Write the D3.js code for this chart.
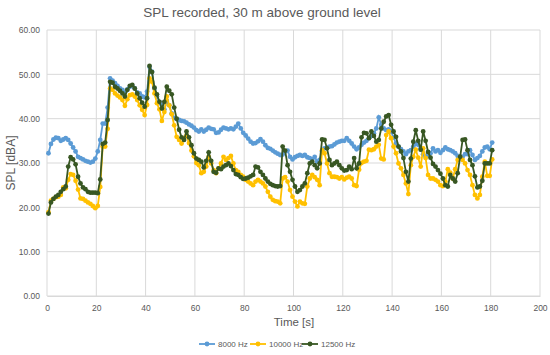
<!DOCTYPE html>
<html>
<head>
<meta charset="utf-8">
<script src="https://cdn.jsdelivr.net/npm/d3@7"></script>
<style>
  body { margin: 0; background: #fff; }
  text { font-family: "Liberation Sans", Arial, sans-serif; fill: #595959; }
</style>
</head>
<body>
<div id="chart"></div>
<script>
// x positions of the samples (s)
const time = d3.range(181).map((i) => i + 0.6);

const seriesNames = ["8000 Hz", "10000 Hz", "12500 Hz"];
const seriesColors = ["#5B9BD5", "#FFC000", "#385723"];

const spl8000 = [
  32.2, 34.3, 35.3, 35.7, 35.6, 35.0, 35.3, 35.6, 35.2, 34.4,
  33.5, 32.6, 31.4, 31.1, 30.8, 30.5, 30.3, 30.1, 30.3, 31.0,
  32.6, 35.2, 38.9, 38.9, 42.5, 49.1, 48.6, 48.0, 47.4, 46.8,
  46.5, 45.9, 46.6, 47.2, 47.4, 46.8, 45.9, 45.7, 45.0, 44.8,
  46.1, 51.7, 50.6, 46.8, 45.0, 43.8, 43.1, 42.1, 44.0, 43.0,
  41.2, 40.2, 39.9, 39.7, 39.5, 39.4, 39.1, 38.7, 38.4, 38.0,
  37.4, 37.1, 37.6, 37.1, 37.5, 38.0, 37.7, 37.6, 36.8, 36.9,
  37.5, 38.0, 37.8, 37.6, 37.8, 37.6, 38.2, 38.9, 37.8, 36.8,
  36.2, 35.5, 34.8, 34.4, 34.5, 34.9, 35.4, 34.8, 34.0, 33.4,
  33.2, 32.8, 32.4, 32.1, 31.8, 31.9, 32.6, 32.8, 31.4, 30.8,
  31.3, 31.6, 31.8, 31.6, 31.8, 31.3, 31.1, 30.8, 31.4, 30.3,
  30.7, 32.6, 33.3, 33.5, 33.7, 33.8, 34.2, 34.6, 34.8, 35.0,
  35.0, 35.6, 35.0, 34.4, 33.7, 33.1, 33.5, 34.1, 34.6, 35.0,
  35.6, 36.1, 36.7, 37.8, 40.3, 38.6, 37.8, 37.4, 37.6, 37.1,
  35.8, 34.4, 33.7, 33.1, 32.6, 32.0, 32.6, 32.9, 33.7, 34.3,
  34.1, 33.3, 32.0, 31.4, 31.8, 32.2, 33.3, 32.6, 32.9, 32.3,
  32.9, 33.5, 33.1, 32.9, 32.6, 32.2, 31.6, 31.5, 31.4, 32.0,
  32.0, 32.9, 31.8, 30.7, 31.1, 31.6, 32.6, 33.5, 33.7, 33.1,
  34.6
];

const spl10000 = [
  18.9, 21.5, 21.9, 22.3, 22.4, 22.8, 24.5, 24.3, 26.2, 27.5,
  27.3, 26.0, 24.0, 22.0, 21.9, 21.5, 21.1, 20.8, 20.3, 19.8,
  20.3, 24.6, 33.7, 33.7, 37.7, 46.8, 46.5, 45.7, 45.2, 44.8,
  44.2, 42.9, 44.4, 45.3, 45.5, 45.0, 44.2, 43.0, 42.0, 40.8,
  43.1, 49.1, 48.3, 45.7, 43.5, 42.1, 39.5, 41.5, 45.0, 43.0,
  41.0, 38.5, 35.9, 35.2, 34.4, 35.6, 36.2, 34.5, 32.8, 31.5,
  30.0, 29.5, 27.7, 28.0, 29.2, 31.4, 29.9, 28.4, 27.7, 28.8,
  29.9, 31.4, 30.7, 31.1, 31.6, 29.9, 28.4, 28.0, 27.3, 26.9,
  26.2, 25.8, 25.4, 25.0, 25.8, 26.2, 25.8, 25.4, 24.7, 23.5,
  22.4, 21.7, 21.4, 21.3, 20.9, 26.5, 26.8, 25.8, 23.9, 22.4,
  21.3, 20.2, 21.3, 20.9, 20.8, 24.7, 26.5, 27.3, 26.8, 26.2,
  25.0, 32.9, 32.2, 29.9, 27.7, 26.9, 26.9, 26.8, 26.5, 26.8,
  26.3, 26.7, 26.9, 26.5, 25.0, 24.8, 28.5, 30.0, 30.3, 30.5,
  33.0, 32.9, 33.1, 33.7, 34.1, 31.0, 30.8, 36.3, 37.1, 35.6,
  33.7, 32.2, 29.9, 28.8, 27.3, 25.4, 23.0, 29.5, 31.4, 33.0,
  31.2, 29.2, 33.3, 31.1, 27.3, 26.5, 26.5, 26.2, 25.8, 25.0,
  24.8, 25.8, 28.6, 27.8, 26.5, 28.6, 30.7, 31.4, 30.7, 29.9,
  28.4, 27.3, 25.0, 22.8, 22.0, 22.8, 26.9, 30.3, 27.1, 27.1,
  30.8
];

const spl12500 = [
  18.6, 21.1, 21.9, 22.4, 22.8, 23.5, 24.1, 24.7, 29.2, 31.3,
  30.8, 29.7, 26.9, 25.4, 24.5, 24.1, 23.5, 23.3, 23.3, 23.3,
  23.2, 26.3, 34.3, 34.6, 39.7, 48.3, 48.1, 47.2, 46.8, 46.3,
  45.7, 45.0, 46.5, 47.4, 47.6, 46.8, 45.7, 44.6, 43.6, 42.7,
  44.6, 51.9, 50.5, 47.0, 45.5, 43.8, 42.3, 43.8, 47.2, 46.3,
  45.5, 42.5, 40.0, 37.5, 35.8, 35.2, 37.1, 35.8, 34.0, 32.2,
  31.0, 30.7, 30.3, 29.0, 30.5, 32.4, 30.5, 28.0, 27.8, 28.8,
  28.6, 29.2, 29.5, 29.9, 29.3, 28.4, 27.5, 27.3, 26.8, 26.4,
  26.5, 26.7, 27.0, 27.3, 29.2, 29.0, 28.0, 27.3, 26.5, 25.8,
  25.3, 25.0, 24.8, 24.7, 24.8, 33.7, 32.8, 29.5, 28.0, 26.2,
  24.7, 23.5, 23.9, 24.7, 25.4, 27.7, 29.9, 30.3, 29.5, 28.8,
  29.9, 35.3, 35.2, 33.3, 30.7, 29.5, 29.9, 30.3, 29.5, 28.8,
  28.3, 28.4, 29.2, 28.6, 31.1, 28.8, 29.9, 35.8, 36.8, 36.7,
  35.6, 37.1, 36.1, 34.8, 35.2, 37.8, 39.3, 40.5, 40.8, 38.6,
  37.1, 35.9, 33.7, 32.6, 31.1, 28.0, 25.8, 31.0, 34.8, 37.4,
  35.0, 33.0, 37.1, 35.0, 32.5, 31.2, 29.8, 29.2, 28.4, 27.6,
  26.5, 25.0, 24.7, 27.3, 26.5, 25.8, 27.7, 31.4, 35.2, 35.3,
  32.9, 30.7, 29.5, 27.0, 24.5, 24.7, 26.0, 29.9, 29.9, 29.9,
  32.9
];

const xTicks = [0, 20, 40, 60, 80, 100, 120, 140, 160, 180, 200];
const yTicks = [0, 10, 20, 30, 40, 50, 60];

const width = 550;
const height = 355;
const margin = { top: 30, right: 10, bottom: 59, left: 47 };

const svg = d3
  .select("#chart")
  .append("svg")
  .attr("width", width)
  .attr("height", height);

const x = d3.scaleLinear().domain([0, 200]).range([margin.left, width - margin.right]);
const y = d3.scaleLinear().domain([0, 60]).range([height - margin.bottom, margin.top]);

// gridlines
svg
  .append("g")
  .selectAll("line")
  .data(yTicks)
  .join("line")
  .attr("x1", x(0))
  .attr("x2", x(200))
  .attr("y1", (d) => y(d))
  .attr("y2", (d) => y(d))
  .attr("stroke", "#d9d9d9")
  .attr("stroke-width", 1);

svg
  .append("g")
  .selectAll("line")
  .data(xTicks)
  .join("line")
  .attr("x1", (d) => x(d))
  .attr("x2", (d) => x(d))
  .attr("y1", y(0))
  .attr("y2", y(60))
  .attr("stroke", "#d9d9d9")
  .attr("stroke-width", 1);

// axes (labels only)
const xAxis = svg
  .append("g")
  .attr("transform", `translate(0, ${y(0)})`)
  .call(d3.axisBottom(x).tickValues(xTicks).tickSize(0).tickPadding(9));
xAxis.select(".domain").attr("stroke", "#d9d9d9");
xAxis.selectAll("text").attr("font-size", 8.5).attr("fill", "#595959");

const yAxis = svg
  .append("g")
  .attr("transform", `translate(${x(0)}, 0)`)
  .call(d3.axisLeft(y).tickValues(yTicks).tickFormat(d3.format(".2f")).tickSize(0).tickPadding(7));
yAxis.select(".domain").remove();
yAxis.selectAll("text").attr("font-size", 8.5).attr("fill", "#595959");

// series
const series = [spl8000, spl10000, spl12500];
const line = d3
  .line()
  .x((d) => x(d[0]))
  .y((d) => y(d[1]));

series.forEach((values, k) => {
  const pts = values.map((v, i) => [time[i], v]);
  const g = svg.append("g");
  g.append("path")
    .datum(pts)
    .attr("d", line)
    .attr("fill", "none")
    .attr("stroke", seriesColors[k])
    .attr("stroke-width", 1.8);
  g.selectAll("circle")
    .data(pts)
    .join("circle")
    .attr("cx", (d) => x(d[0]))
    .attr("cy", (d) => y(d[1]))
    .attr("r", 2.4)
    .attr("fill", seriesColors[k]);
});

// titles
svg
  .append("text")
  .attr("x", 262)
  .attr("y", 17)
  .attr("text-anchor", "middle")
  .attr("font-size", 13.5)
  .text("SPL recorded, 30 m above ground level");

svg
  .append("text")
  .attr("x", 294)
  .attr("y", 326)
  .attr("text-anchor", "middle")
  .attr("font-size", 11.5)
  .text("Time [s]");

svg
  .append("text")
  .attr("transform", `translate(15, ${y(30)}) rotate(-90)`)
  .attr("text-anchor", "middle")
  .attr("font-size", 12)
  .text("SPL [dBA]");

// legend
const legendX = [199, 250, 302];
const legend = svg
  .append("g")
  .selectAll("g")
  .data(seriesNames)
  .join("g")
  .attr("transform", (d, i) => `translate(${legendX[i]}, 344)`);

legend
  .append("line")
  .attr("x1", 0)
  .attr("x2", 16)
  .attr("stroke", (d, i) => seriesColors[i])
  .attr("stroke-width", 1.8);
legend
  .append("circle")
  .attr("cx", 8)
  .attr("r", 2.4)
  .attr("fill", (d, i) => seriesColors[i]);
legend
  .append("text")
  .attr("x", 19)
  .attr("y", 3)
  .attr("font-size", 8)
  .text((d) => d);
</script>
</body>
</html>
